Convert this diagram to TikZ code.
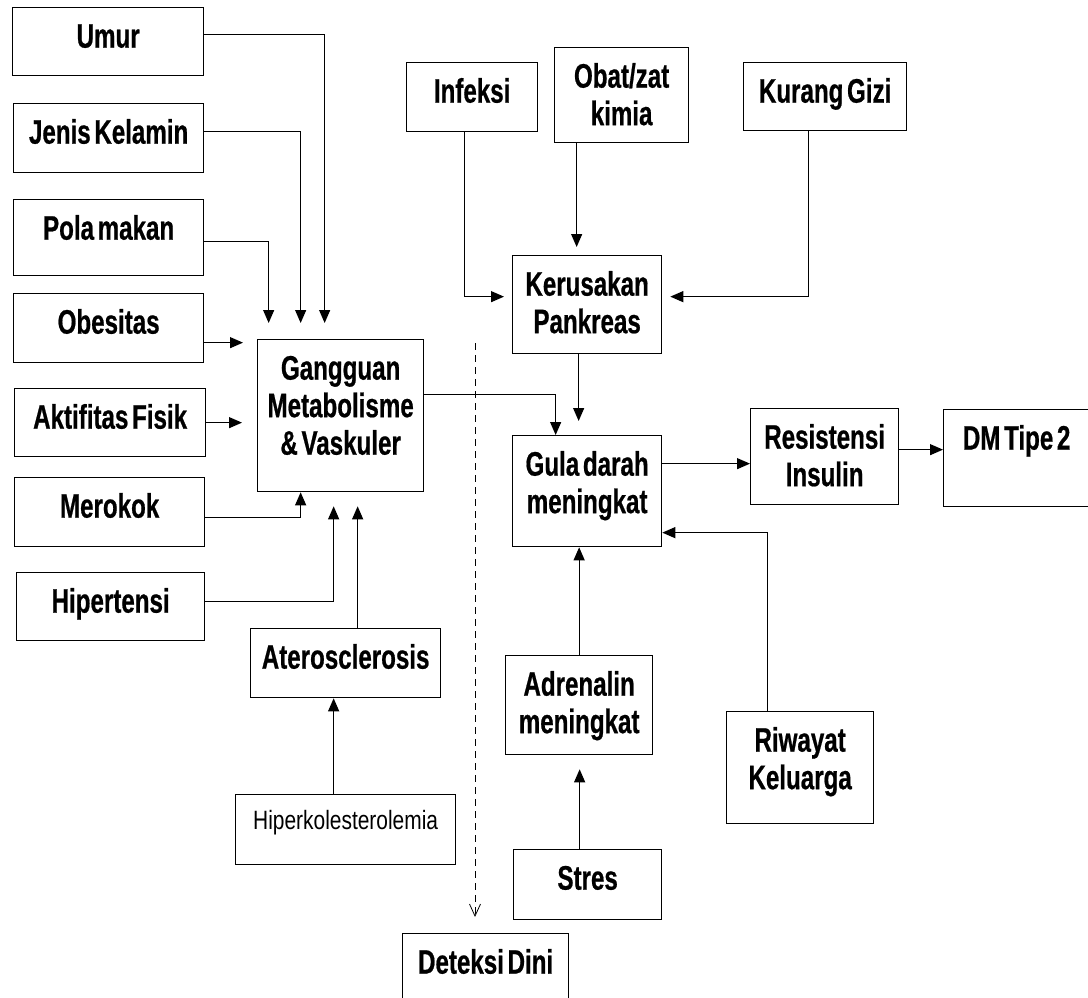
\documentclass[tikz,border=0pt]{standalone}
\usepackage{fontspec}
\setmainfont{Liberation Sans}[FakeStretch=0.71, WordSpace=0.55, BoldFeatures={FakeBold=0.6}]
\newfontfamily\plainfont{Liberation Sans}[FakeStretch=0.79]
\usetikzlibrary{arrows.meta,positioning,calc}

\begin{document}
\begin{tikzpicture}[x=1pt, y=-1pt,
    box/.style={draw, line width=1.3pt, inner sep=0pt, anchor=north west, align=flush center,
        text height=40pt, font=\fontsize{34}{37.5}\selectfont\bfseries},
    conn/.style={-{Triangle[length=13pt,width=11pt]}, line width=1.2pt},
    dashline/.style={-{Straight Barb[length=12pt,width=11pt]}, line width=0.8pt, dash pattern=on 7pt off 5pt}]
    \useasboundingbox (0,0) rectangle (1088,998);
    \clip (0,0) rectangle (1088,998);
    \fill[white] (0,0) rectangle (1088,998);

    % Left column of factors
    \node[box, text width=191pt, text depth=28pt] (umur) at (12,7) {Umur};
    \node[box, text width=190pt, text depth=29pt] (jk) at (13,103) {Jenis Kelamin};
    \node[box, text width=190pt, text depth=36pt] (pola) at (13,199) {Pola makan};
    \node[box, text width=190pt, text depth=29pt] (obes) at (13,293) {Obesitas};
    \node[box, text width=191pt, text depth=28pt] (aktif) at (14,388) {Aktifitas Fisik};
    \node[box, text width=190pt, text depth=29pt] (rokok) at (14,477) {Merokok};
    \node[box, text width=188pt, text depth=28pt] (hiper) at (16,572) {Hipertensi};

    % Gangguan Metabolisme
    \node[box, text width=166pt, text depth=112pt] (gmv) at (257,339) {Gangguan\\Metabolisme\\\& Vaskuler};
    \node[box, text width=190pt, text depth=29pt] (atero) at (250,628) {Aterosclerosis};
    \node[box, text width=220pt, text height=35pt, text depth=35pt,
        font=\fontsize{26.5}{30}\selectfont\plainfont] (kol) at (235,794) {Hiperkolesterolemia};
    \node[box, text width=166pt, text depth=87pt] (dini) at (402,933) {Deteksi Dini};

    % Pankreas branch
    \node[box, text width=131pt, text depth=29pt] (infeksi) at (406,62) {Infeksi};
    \node[box, text width=134pt, text depth=55pt] (obat) at (554,47) {Obat/zat\\kimia};
    \node[box, text width=163pt, text depth=28pt] (gizi) at (743,62) {Kurang Gizi};
    \node[box, text width=149pt, text depth=58pt] (pank) at (512,255) {Kerusakan\\Pankreas};

    % Gula darah
    \node[box, text width=149pt, text depth=71pt] (gula) at (512,435) {Gula darah\\meningkat};
    \node[box, text width=148pt, text depth=56pt] (resist) at (750,408) {Resistensi\\Insulin};
    \node[box, text width=146pt, text depth=57pt] (dm) at (943,409) {DM Tipe 2};
    \node[box, text width=147pt, text depth=59pt] (adren) at (505,655) {Adrenalin\\meningkat};
    \node[box, text width=147pt, text depth=72pt] (riwayat) at (726,711) {Riwayat\\Keluarga};
    \node[box, text width=148pt, text depth=30pt] (stres) at (513,849) {Stres};

    % Arrows into Gangguan
    \draw[conn, shorten >=16pt] ([yshift=7pt]umur.east) -| ([xshift=-16pt]gmv.north);
    \draw[conn, shorten >=16pt] ([yshift=6.5pt]jk.east) -| ([xshift=-40pt]gmv.north);
    \draw[conn, shorten >=16pt] ([yshift=-4pt]pola.east) -| ([xshift=-72pt]gmv.north);
    \draw[conn, shorten >=14pt] ([yshift=-14.5pt]obes.east) -- ([yshift=-14.5pt]obes.east -| gmv.west);
    \draw[conn, shorten >=15pt] (aktif.east) -- (aktif.east -| gmv.west);
    \draw[conn] ([yshift=-5.5pt]rokok.east) -| ([xshift=-40pt]gmv.south);
    \draw[conn, shorten >=14pt] ([yshift=5pt]hiper.east) -| ([xshift=-7pt]gmv.south);
    \draw[conn, shorten >=14pt] ([xshift=12pt]atero.north) -- ([xshift=12pt]atero.north |- gmv.south);
    \draw[conn] ([xshift=-12pt]kol.north) -- ([xshift=-12pt]atero.south);

    % Dashed line to Deteksi Dini
    \coordinate (dtop) at (475,343);
    \draw[dashline, shorten >=16pt] (dtop) -- (dtop |- dini.north);

    % Arrows into Kerusakan Pankreas
    \draw[conn, shorten >=8pt] ([xshift=-7.5pt]infeksi.south) |- ([yshift=8pt]pank.west);
    \draw[conn, shorten >=8pt] ([xshift=-45pt]obat.south) -- ([xshift=-45pt]obat.south |- pank.north);
    \draw[conn, shorten >=8pt] ([xshift=-16.5pt]gizi.south) |- ([yshift=8pt]pank.east);

    % Arrows into Gula darah and onwards
    \draw[conn, shorten >=14pt] ([xshift=-8.5pt]pank.south) -- ([xshift=-8.5pt]pank.south |- gula.north);
    \draw[conn] ([yshift=21pt]gmv.east) -| ([xshift=-31.5pt]gula.north);
    \draw[conn] ([yshift=27.5pt]gula.east) -- ([yshift=27.5pt]gula.east -| resist.west);
    \draw[conn] ([yshift=7pt]resist.east) -- ([yshift=7pt]resist.east -| dm.west);
    \draw[conn] ([xshift=-32.5pt]riwayat.north) |- ([yshift=-41.5pt]gula.east);
    \draw[conn] (adren.north) -- (adren.north |- gula.south);
    \draw[conn, shorten >=14pt] ([xshift=-8pt]stres.north) -- ([xshift=-8pt]stres.north |- adren.south);
\end{tikzpicture}
\end{document}
